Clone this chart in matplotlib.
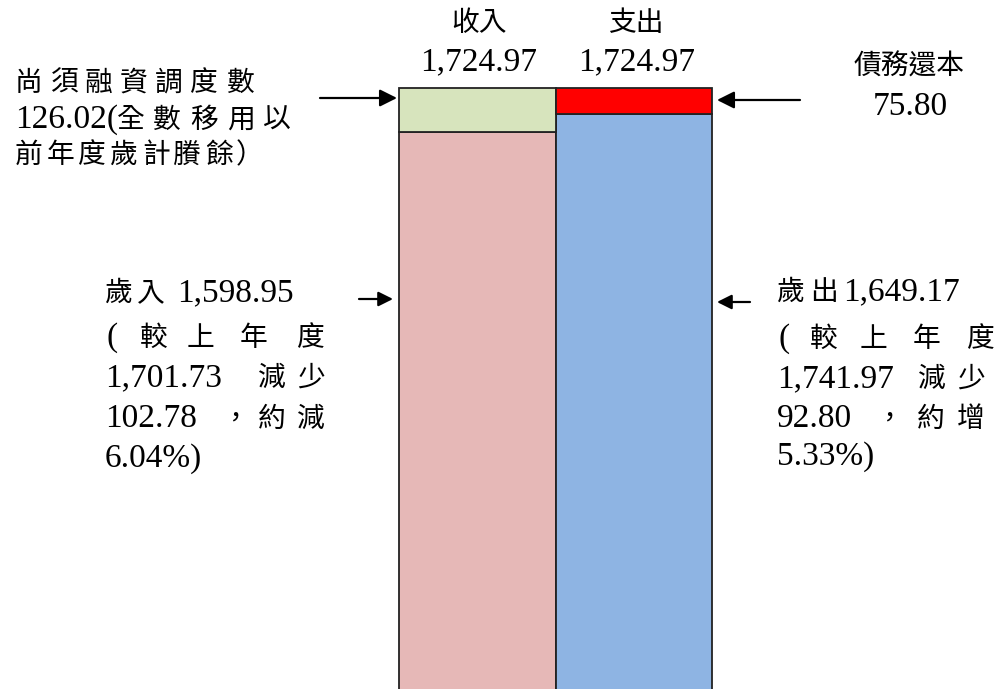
import matplotlib
matplotlib.use("Agg")
import matplotlib.pyplot as plt

# Data (億元)
categories = ['收入', '支出']
base_vals = [1598.95, 1649.17]      # 歲入 / 歲出
top_vals = [126.02, 75.80]          # 融資調度數 / 債務還本
totals = [1724.97, 1724.97]
prev_year = [1701.73, 1741.97]
diff_vals = [102.78, 92.80]
pct_vals = [6.04, 5.33]

base_colors = ['#E6B8B7', '#8EB4E3']
top_colors = ['#D7E4BD', '#FF0000']

W, H = 1002, 689
fig = plt.figure(figsize=(W / 100, H / 100), dpi=100)
ax = fig.add_axes([0, 0, 1, 1])

x = [0, 1]
ax.bar(x, base_vals, width=1, color=base_colors, edgecolor='#222222', linewidth=1.3)
ax.bar(x, top_vals, width=1, bottom=base_vals, color=top_colors,
       edgecolor='#222222', linewidth=1.3)
ax.set_xlim(-3.05, 3.353)
ax.set_ylim(5, max(totals) * 1.146)
ax.axis('off')

CJK = 'Noto Sans CJK TC'
LAT = 'Liberation Serif'


def put(s, px, py, ha='left'):
    # text in pixel coords (from top-left), font picked by content
    latin = all(ord(c) < 128 for c in s)
    fig.text(px / W, 1 - py / H, s, ha=ha, va='baseline',
             fontsize=24 if latin else 20,
             family=[LAT, CJK] if latin else [CJK, LAT])


def put_chars(s, xs, py):
    for c, px in zip(s, xs):
        put(c, px, py)


def arrow(x_from, x_to, py, ms=26):
    ax.annotate('', xy=(x_to, H - py), xytext=(x_from, H - py),
                xycoords='figure pixels', textcoords='figure pixels',
                arrowprops=dict(arrowstyle='-|>', color='black', lw=1.6,
                                mutation_scale=ms, shrinkA=0, shrinkB=0))


def fmt(v):
    return f'{v:,.2f}'


# column titles
put(categories[0], 479, 31, ha='center')
put(fmt(totals[0]), 479, 70, ha='center')
put(categories[1], 636, 31, ha='center')
put(fmt(totals[1]), 637, 70, ha='center')

# top right: 債務還本
put('債務還本', 909, 75, ha='center')
put(fmt(top_vals[1]), 910, 115, ha='center')
arrow(800, 717, 100)

# top left: 融資調度
put_chars('尚須融資調度數', [15, 50, 85, 120, 155, 190, 227], 91)
put(fmt(top_vals[0]) + '(', 15, 128)
put_chars('全數移用以', [117, 153, 190, 227, 263], 128)
put_chars('前年度歲計賸餘）', [15, 47, 78, 110, 142, 173, 205, 236], 163)
arrow(320, 397, 98)

# left middle: 歲入
put_chars('歲入', [105, 137], 301)
put(fmt(base_vals[0]), 177, 301)
put('(', 106, 346)
put_chars('較上年度', [140, 187, 240, 297], 346)
put(fmt(prev_year[0]), 105, 386)
put_chars('減少', [258, 297], 386)
put(fmt(diff_vals[0]), 105, 427)
put_chars('，約減', [221, 258, 297], 427)
put(f'{pct_vals[0]:.2f}%)', 105, 467)
arrow(359, 393, 299, ms=22)

# right middle: 歲出
put_chars('歲出', [777, 810], 300)
put(fmt(base_vals[1]), 843, 300)
put('(', 778, 347)
put_chars('較上年度', [810, 860, 913, 967], 347)
put(fmt(prev_year[1]), 777, 387)
put_chars('減少', [918, 957], 387)
put(fmt(diff_vals[1]), 777, 427)
put_chars('，約增', [875, 917, 957], 427)
put(f'{pct_vals[1]:.2f}%)', 777, 465)
arrow(750, 717, 302, ms=22)

fig.savefig('out.png', dpi=100)
